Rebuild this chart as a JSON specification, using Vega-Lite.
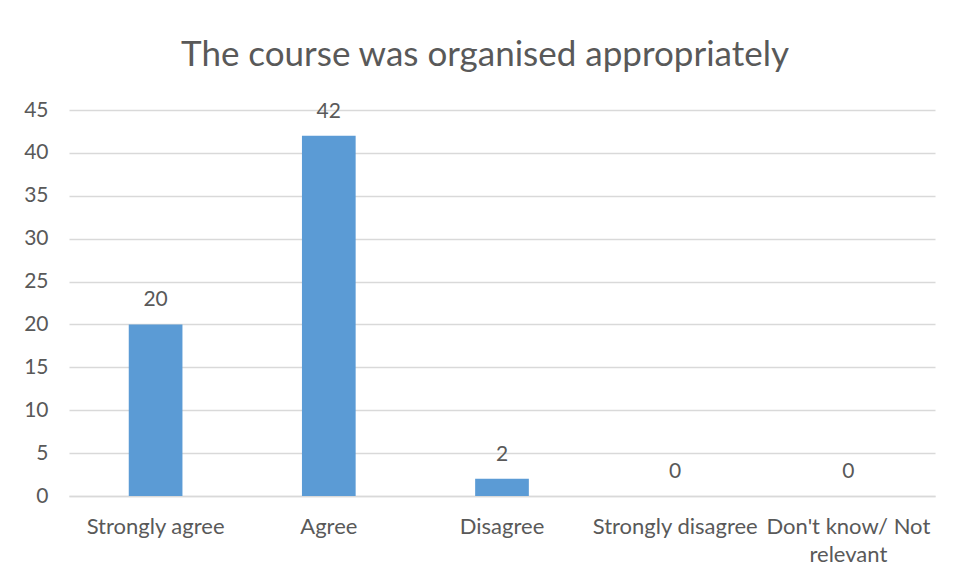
{
  "$schema": "https://vega.github.io/schema/vega-lite/v6.json",
  "autosize": "none",
  "width": 866,
  "height": 386,
  "padding": {"left": 69, "top": 110, "right": 19, "bottom": 84},
  "background": "white",
  "config": {
    "view": {"stroke": null},
    "font": "Lato",
    "axis": {"labelFont": "Lato", "labelColor": "#595959", "labelFontSize": 21}
  },
  "title": {
    "text": "The course was organised appropriately",
    "fontSize": 35,
    "font": "Lato",
    "fontWeight": "normal",
    "color": "#595959",
    "anchor": "middle",
    "dx": -17,
    "offset": 26
  },
  "data": {
    "values": [
      {"response": "Strongly agree", "count": 20},
      {"response": "Agree", "count": 42},
      {"response": "Disagree", "count": 2},
      {"response": "Strongly disagree", "count": 0},
      {"response": "Don't know/ Not relevant", "count": 0}
    ]
  },
  "encoding": {
    "x": {
      "field": "response",
      "type": "nominal",
      "sort": null,
      "scale": {"paddingInner": 0.69, "paddingOuter": 0.345},
      "axis": {
        "title": null,
        "labelAngle": 0,
        "ticks": false,
        "domain": true,
        "domainColor": "#d9d9d9",
        "domainWidth": 1.5,
        "labelPadding": 20,
        "labelFontSize": 22,
        "labelLineHeight": 28,
        "labelExpr": "datum.label == \"Don't know/ Not relevant\" ? [\"Don't know/ Not\", \"relevant\"] : datum.label"
      }
    },
    "y": {
      "field": "count",
      "type": "quantitative",
      "scale": {"domain": [0, 45]},
      "axis": {
        "title": null,
        "values": [0, 5, 10, 15, 20, 25, 30, 35, 40, 45],
        "domain": false,
        "ticks": false,
        "gridColor": "#d9d9d9",
        "gridWidth": 1.5,
        "labelPadding": 21
      }
    }
  },
  "layer": [
    {"mark": {"type": "bar", "color": "#5B9BD5"}},
    {
      "mark": {"type": "text", "dy": -24, "fontSize": 21, "color": "#595959", "font": "Lato", "baseline": "middle"},
      "encoding": {"text": {"field": "count", "type": "quantitative"}}
    }
  ]
}
